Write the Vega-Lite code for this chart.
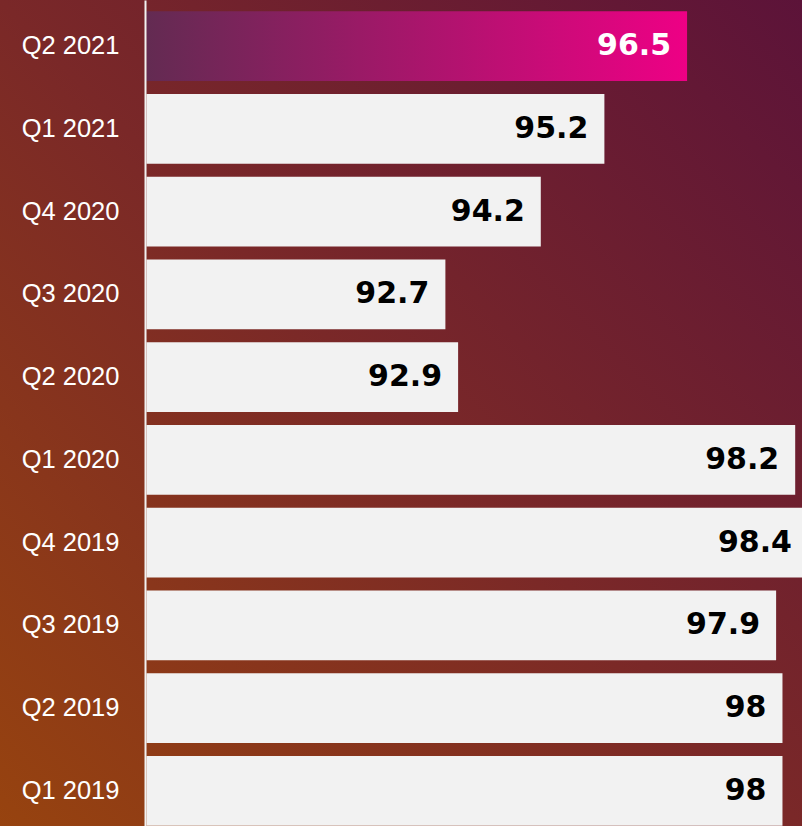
{
  "$schema": "https://vega.github.io/schema/vega-lite/v6.json",
  "width": 802,
  "height": 826,
  "autosize": "none",
  "padding": 0,
  "background": "#7A2A28",
  "config": {"view": {"stroke": null}},
  "data": {
    "values": [
      {"q": "Q2 2021", "v": 96.5},
      {"q": "Q1 2021", "v": 95.2},
      {"q": "Q4 2020", "v": 94.2},
      {"q": "Q3 2020", "v": 92.7},
      {"q": "Q2 2020", "v": 92.9},
      {"q": "Q1 2020", "v": 98.2},
      {"q": "Q4 2019", "v": 98.4},
      {"q": "Q3 2019", "v": 97.9},
      {"q": "Q2 2019", "v": 98},
      {"q": "Q1 2019", "v": 98}
    ]
  },
  "encoding": {
    "y": {
      "field": "q",
      "type": "nominal",
      "sort": ["Q2 2021", "Q1 2021", "Q4 2020", "Q3 2020", "Q2 2020", "Q1 2020", "Q4 2019", "Q3 2019", "Q2 2019", "Q1 2019"],
      "scale": {"paddingInner": 0.158, "paddingOuter": 0.07, "align": 0.97},
      "axis": {
        "title": null,
        "orient": "left",
        "offset": -145,
        "zindex": 1,
        "ticks": false,
        "grid": false,
        "domainColor": "#F2F2F2",
        "domainWidth": 2,
        "labelColor": "#FFFFFF",
        "labelFont": "Liberation Sans",
        "labelFontSize": 25.5,
        "labelPadding": 26
      }
    }
  },
  "layer": [
    {
      "data": {"values": [{"bg": 1}]},
      "mark": {
        "type": "rect",
        "color": {
          "gradient": "linear",
          "x1": 0, "y1": 1, "x2": 1, "y2": 0,
          "stops": [
            {"offset": 0, "color": "#97430F"},
            {"offset": 0.5, "color": "#7A2828"},
            {"offset": 1, "color": "#5C1339"}
          ]
        }
      },
      "encoding": {"y": null}
    },
    {
      "transform": [{"filter": "datum.q !== 'Q2 2021'"}],
      "mark": {"type": "bar", "color": "#F2F2F2", "clip": true},
      "encoding": {
        "x": {"field": "v", "type": "quantitative", "scale": {"domain": [85.697, 98.307], "zero": false, "nice": false}, "axis": null},
        "x2": {"datum": 88}
      }
    },
    {
      "transform": [{"filter": "datum.q === 'Q2 2021'"}],
      "mark": {
        "type": "bar",
        "clip": true,
        "color": {
          "gradient": "linear",
          "x1": 0, "y1": 0, "x2": 1, "y2": 0,
          "stops": [
            {"offset": 0, "color": "#632B52"},
            {"offset": 1, "color": "#EE0085"}
          ]
        }
      },
      "encoding": {
        "x": {"field": "v", "type": "quantitative"},
        "x2": {"datum": 88}
      }
    },
    {
      "mark": {"type": "text", "align": "right", "baseline": "middle", "dx": -16, "font": "DejaVu Sans", "fontWeight": "bold", "fontSize": 30},
      "encoding": {
        "x": {"field": "v", "type": "quantitative"},
        "text": {"field": "v", "type": "quantitative"},
        "color": {"condition": {"test": "datum.q === 'Q2 2021'", "value": "#FFFFFF"}, "value": "#000000"}
      }
    }
  ]
}
